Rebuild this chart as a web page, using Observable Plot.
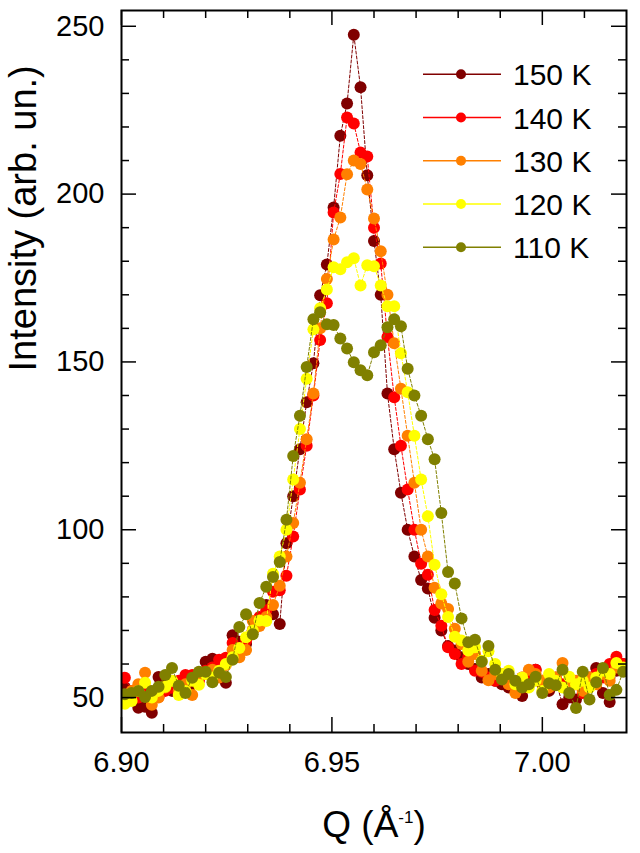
<!DOCTYPE html>
<html>
<head>
<meta charset="utf-8">
<script src="https://cdn.jsdelivr.net/npm/d3@7"></script>
<script src="https://cdn.jsdelivr.net/npm/@observablehq/plot@0.6"></script>
<style>
  body { margin: 0; background: #fff; }
  #chart { width: 640px; height: 853px; }
</style>
</head>
<body>
<div id="chart"></div>
<script>
// Momentum transfer Q (Å^-1) of each scan point
const q = [
  6.9008, 6.9024, 6.9040, 6.9056, 6.9072, 6.9088, 6.9104, 6.9120, 6.9136, 6.9152,
  6.9168, 6.9184, 6.9200, 6.9216, 6.9232, 6.9248, 6.9264, 6.9280, 6.9296, 6.9312,
  6.9328, 6.9344, 6.9360, 6.9376, 6.9392, 6.9408, 6.9424, 6.9440, 6.9456, 6.9472,
  6.9488, 6.9504, 6.9520, 6.9536, 6.9552, 6.9568, 6.9584, 6.9600, 6.9616, 6.9632,
  6.9648, 6.9664, 6.9680, 6.9696, 6.9712, 6.9728, 6.9744, 6.9760, 6.9776, 6.9792,
  6.9808, 6.9824, 6.9840, 6.9856, 6.9872, 6.9888, 6.9904, 6.9920, 6.9936, 6.9952,
  6.9968, 6.9984, 7.0000, 7.0016, 7.0032, 7.0048, 7.0064, 7.0080, 7.0096, 7.0112,
  7.0128, 7.0144, 7.0160, 7.0176, 7.0192
];

// Intensity (arb. un.) at each temperature
const i150 = [
  53, 50, 47, 47.3, 45.5, 56.1, 54, 52, 53, 55,
  54, 57, 60.7, 61.6, 58, 54.4, 68.6, 66.6, 66, 70,
  72, 77.6, 74.8, 71.9, 96, 110, 124, 138, 149.6, 169.9,
  179, 196, 217.4, 227, 247.5, 231.8, 205.6, 186, 170, 140.6,
  124, 111, 100, 92, 85, 82.5, 73.8, 70, 65.4, 64,
  62, 60, 58.5, 56, 57, 55, 54, 53, 54, 50.5,
  55, 58.3, 54, 52, 55, 48, 50, 49.4, 53, 56,
  58.8, 51.4, 48.7, 58, 60
];
const i140 = [
  55.9, 52, 50, 53, 51, 50.2, 52, 52.9, 55, 56.7,
  56.7, 55, 58, 59, 61.3, 61.9, 66.3, 64, 67, 70,
  74, 76, 81.5, 82, 86.3, 98, 112, 125, 140, 156.5,
  167.5, 194.5, 206, 222.8, 221, 212.4, 211.2, 190, 179.3, 157.4,
  139.5, 125, 112, 100, 89.9, 86.6, 76.1, 71.4, 65, 63,
  60, 62, 58, 57.7, 56, 55, 57, 54, 53, 56,
  55, 58.3, 55, 53, 56, 54, 55, 54, 51.4, 55,
  57, 56, 60, 62.2, 60
];
const i130 = [
  50, 52, 54, 57.4, 47.9, 50, 53, 55, 52, 54,
  50.8, 56, 57, 58.3, 56, 59.7, 64.2, 62, 64.2, 72.8,
  71.3, 74, 77.6, 83.3, 92, 102, 114, 127, 140.6, 160,
  174.7, 186.5, 193, 205.9, 210, 209, 201.4, 192.7, 183, 170,
  155.6, 142, 128, 114, 100, 92, 82.7, 78, 76.4, 70.5,
  66, 60.7, 63, 58, 55.2, 57, 56, 54, 51.4, 55,
  58.3, 57, 55, 53, 56, 60.3, 53, 55, 52, 56,
  54, 57, 55, 59, 58
];
const i120 = [
  48.2, 49, 52, 54.4, 50, 52, 53.2, 55, 50.8, 52,
  55, 53.8, 57, 56, 58, 60, 62, 64.8, 68, 70,
  73, 72.8, 86.9, 92, 100, 115, 130, 145, 159.7, 166,
  171.6, 178.2, 177.6, 179.7, 180.9, 172.8, 178.8, 178.5, 172.8, 166.6,
  166.6, 152.6, 141, 128, 115, 104, 89.6, 80.8, 74, 68.1,
  67, 64, 65, 61, 63.8, 60, 57, 58, 54, 56,
  53, 55, 52, 57, 55, 53, 56.2, 54, 55, 53,
  56, 58, 57, 60.3, 59
];
const i110 = [
  51, 51.4, 52, 50.2, 52, 53.2, 56.7, 58.8, 53.5, 51.4,
  55.9, 57.7, 57.7, 54.6, 57.4, 56.1, 61.3, 71, 74.8, 68.9,
  78.2, 83, 85.9, 90.4, 103, 122, 134, 148.5, 162.7, 164.8,
  161.2, 161, 157, 154, 149.9, 147.5, 146, 152.9, 155, 160.3,
  162.7, 160.6, 148, 140, 134, 127, 121, 105, 87.4, 84,
  73.6, 66.5, 67.2, 60.7, 65.4, 58.3, 55.4, 57, 55, 53,
  54, 56.2, 51.4, 54.3, 53.7, 58.3, 51.4, 46.9, 57.7, 49.4,
  54.6, 58.8, 50.8, 52.3, 57.7
];

const seriesLabels = ["150 K", "140 K", "130 K", "120 K", "110 K"];
const seriesColors = ["#800000", "#ff0000", "#ff8000", "#ffff00", "#808000"];
const seriesValues = [i150, i140, i130, i120, i110];

// Axis ticks
const xMajor = [6.90, 6.95, 7.00];
const xTickLabels = ["6.90", "6.95", "7.00"];
const xMinor = [6.91, 6.92, 6.93, 6.94, 6.96, 6.97, 6.98, 6.99, 7.01];
const yMajor = [50, 100, 150, 200, 250];
const yTickLabels = ["50", "100", "150", "200", "250"];
const yMinor = [60, 70, 80, 90, 110, 120, 130, 140, 160, 170, 180, 190, 210, 220, 230, 240];

const xLabel = "Q (Å-1)";
const yLabel = "Intensity (arb. un.)";

// Layout
const W = 640, H = 853;
const mL = 121, mR = 14, mT = 10, mB = 121;
const plotW = W - mL - mR, plotH = H - mT - mB;
const majorLen = 15, minorLen = 8;

const marks = [];
seriesValues.forEach((vals, k) => {
  const data = q.map((x, i) => ({q: x, v: vals[i]}));
  marks.push(Plot.line(data, {
    x: "q", y: "v", stroke: seriesColors[k], strokeWidth: 1,
    strokeDasharray: "3,2", clip: true
  }));
  marks.push(Plot.dot(data, {
    x: "q", y: "v", r: 6, fill: seriesColors[k], clip: true
  }));
});

// Inward ticks on all four sides
const tickStyle = {stroke: "black", strokeWidth: 1.5};
marks.push(
  Plot.ruleX(xMajor, {x: d => d, insetTop: plotH - majorLen, ...tickStyle}),
  Plot.ruleX(xMajor, {x: d => d, insetBottom: plotH - majorLen, ...tickStyle}),
  Plot.ruleX(xMinor, {x: d => d, insetTop: plotH - minorLen, ...tickStyle}),
  Plot.ruleX(xMinor, {x: d => d, insetBottom: plotH - minorLen, ...tickStyle}),
  Plot.ruleY(yMajor, {y: d => d, insetRight: plotW - majorLen, ...tickStyle}),
  Plot.ruleY(yMajor, {y: d => d, insetLeft: plotW - majorLen, ...tickStyle}),
  Plot.ruleY(yMinor, {y: d => d, insetRight: plotW - minorLen, ...tickStyle}),
  Plot.ruleY(yMinor, {y: d => d, insetLeft: plotW - minorLen, ...tickStyle}),
  Plot.frame({stroke: "black", strokeWidth: 2}),
  Plot.axisX({
    ticks: xMajor, tickSize: 0, tickPadding: 19, fontSize: 29, label: null,
    tickFormat: d => xTickLabels[xMajor.indexOf(d)]
  }),
  Plot.axisY({
    ticks: yMajor, tickSize: 0, tickPadding: 17, fontSize: 29, label: null,
    tickFormat: d => yTickLabels[yMajor.indexOf(d)]
  }),
  Plot.text([yLabel], {
    text: d => d, frameAnchor: "left", dx: -98, rotate: -90, fontSize: 38
  }),
  Plot.text([xLabel], {
    text: d => d, frameAnchor: "bottom", lineAnchor: "bottom", dy: 104, fontSize: 37
  })
);

const chart = Plot.plot({
  width: W,
  height: H,
  marginLeft: mL,
  marginRight: mR,
  marginTop: mT,
  marginBottom: mB,
  x: {domain: [6.9, 7.02]},
  y: {domain: [39.6, 254.7]},
  style: {
    fontFamily: "'Liberation Sans', Arial, sans-serif",
    fontSize: "29px",
    background: "white",
    color: "black"
  },
  marks
});

// Superscript exponent in the Q axis title
d3.select(chart).selectAll("text").each(function () {
  if (this.textContent === xLabel) {
    const t = d3.select(this);
    t.text("Q (Å");
    t.append("tspan").attr("font-size", 17).attr("dy", -14).text("-1");
    t.append("tspan").attr("dy", 14).text(")");
  }
});

// Key for the temperature series
const key = d3.select(chart).append("g")
  .attr("font-family", "'Liberation Sans', Arial, sans-serif")
  .attr("text-anchor", "start");
seriesLabels.forEach((lab, k) => {
  const y = 74.3 + 43.25 * k;
  key.append("line")
    .attr("x1", 423).attr("x2", 501).attr("y1", y).attr("y2", y)
    .attr("stroke", seriesColors[k]).attr("stroke-width", 1.5);
  key.append("circle")
    .attr("cx", 461).attr("cy", y).attr("r", 5).attr("fill", seriesColors[k]);
  key.append("text")
    .attr("x", 513).attr("y", y + 11).attr("font-size", 30).attr("fill", "black")
    .attr("text-anchor", "start")
    .text(lab);
});

document.getElementById("chart").appendChild(chart);
</script>
</body>
</html>
